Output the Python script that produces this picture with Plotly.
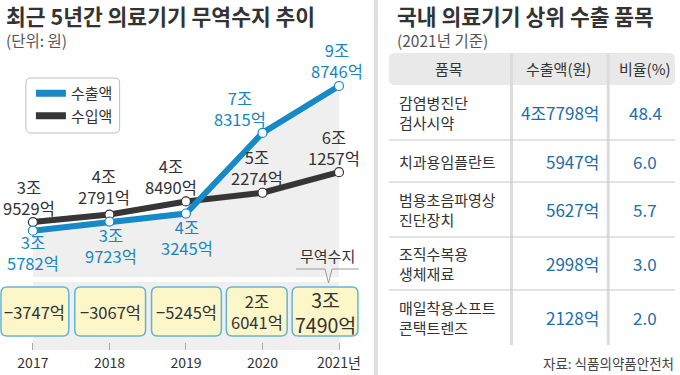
import plotly.graph_objects as go

# ---------------- data (unit: 억원) ----------------
years = [2017, 2018, 2019, 2020, 2021]
year_labels = ["2017", "2018", "2019", "2020", "2021년"]
exports = [35782, 39723, 43245, 78315, 98746]
imports = [39529, 42791, 48490, 52274, 61257]
balance = [-3747, -3067, -5245, 26041, 37490]

items = ["감염병진단<br>검사시약", "치과용임플란트", "범용초음파영상<br>진단장치",
         "조직수복용<br>생체재료", "매일착용소프트<br>콘택트렌즈"]
item_exports = [47798, 5947, 5627, 2998, 2128]
item_shares = [48.4, 6.0, 5.7, 3.0, 2.0]

# ---------------- helpers ----------------
W, H = 680, 375
FONT = "Noto Sans CJK KR"
BLUE = "#168ac6"
BLUE_TXT = "#1a86c0"
DARK = "#363636"
TXT = "#333333"
AMT = "#1d6ea9"


def X(px):
    return px / W


def Y(py):
    return 1 - py / H


def won(v, br=True):
    sign = "−" if v < 0 else ""
    jo, eok = divmod(abs(v), 10000)
    if jo:
        return f"{sign}{jo}조" + ("<br>" if br else "") + f"{eok}억"
    return f"{sign}{eok}억"


def rrect(x0, y0, x1, y1, r):
    rx, ry = r / W, r / H
    a, b, c, d = X(x0), X(x1), Y(y0), Y(y1)  # c top, d bottom
    return (f"M{a+rx},{c} L{b-rx},{c} Q{b},{c} {b},{c-ry} L{b},{d+ry} "
            f"Q{b},{d} {b-rx},{d} L{a+rx},{d} Q{a},{d} {a},{d+ry} "
            f"L{a},{c-ry} Q{a},{c} {a+rx},{c} Z")


def note(px, py, text, size, color=TXT, xa="center", **kw):
    return dict(x=X(px), y=Y(py), xref="paper", yref="paper", text=text,
                showarrow=False, xanchor=xa, yanchor="middle",
                font=dict(size=size, color=color, family=FONT), **kw)


fig = go.Figure()

# gray area under export line
fig.add_trace(go.Scatter(x=years, y=exports, mode="none", fill="tozeroy",
                         fillcolor="#efefef", showlegend=False, hoverinfo="skip"))
# import line
fig.add_trace(go.Scatter(x=years, y=imports, mode="lines+markers", showlegend=False,
                         line=dict(color=DARK, width=6),
                         marker=dict(size=9, color="white", line=dict(color=DARK, width=1.2)),
                         cliponaxis=False, hoverinfo="skip"))
# export line
fig.add_trace(go.Scatter(x=years, y=exports, mode="lines+markers", showlegend=False,
                         line=dict(color=BLUE, width=6),
                         marker=dict(size=9, color="white", line=dict(color=BLUE, width=1.2)),
                         cliponaxis=False, hoverinfo="skip"))
# legend entries
fig.add_trace(go.Scatter(x=[None], y=[None], mode="lines", name="수출액",
                         line=dict(color=BLUE, width=7)))
fig.add_trace(go.Scatter(x=[None], y=[None], mode="lines", name="수입액",
                         line=dict(color=DARK, width=7)))

shapes = []
ann = []

# band behind trade balance boxes
shapes.append(dict(type="rect", xref="paper", yref="paper", x0=X(33), x1=X(340),
                   y0=Y(350), y1=Y(282), fillcolor="#efefef", line=dict(width=0),
                   layer="below"))
# legend frame
shapes.append(dict(type="path", xref="paper", yref="paper", path=rrect(26, 78, 120, 133, 5),
                   fillcolor="white", line=dict(color="#bdbdbd", width=1), layer="below"))

# line labels (pixel offsets of the label block centre from its point)
exp_shift = [(0, -22), (2, -24), (1, -24), (-22, 24), (-2, 25)]
imp_shift = [(-4, 25), (-5, 28), (-15, 25), (-5, 25), (-5, 25)]
for i, yr in enumerate(years):
    ann.append(dict(x=yr, y=exports[i], xref="x", yref="y", text=won(exports[i]),
                    showarrow=False, xanchor="center", yanchor="middle",
                    xshift=exp_shift[i][0], yshift=exp_shift[i][1],
                    font=dict(size=16.5, color=BLUE_TXT, family=FONT)))
    ann.append(dict(x=yr, y=imports[i], xref="x", yref="y", text=won(imports[i]),
                    showarrow=False, xanchor="center", yanchor="middle",
                    xshift=imp_shift[i][0], yshift=imp_shift[i][1],
                    font=dict(size=16.5, color=TXT, family=FONT)))

# trade balance boxes
box_px = [(1, 287, 69, 336), (75, 287, 146, 336), (152, 287, 222, 336),
          (227, 287, 288, 336), (293, 287, 359, 336)]
for i, (x0, y0, x1, y1) in enumerate(box_px):
    shapes.append(dict(type="path", xref="paper", yref="paper", path=rrect(x0, y0, x1, y1, 6),
                       fillcolor="#fdf6c8", line=dict(color="#5fb6d9", width=1.5)))
    ann.append(note((x0 + x1) / 2, (y0 + y1) / 2, won(balance[i]), 19.5 if i == 4 else 16.5))

# callout 무역수지
cp = (f"M{X(297)},{Y(269)} L{X(326)},{Y(269)} L{X(329.5)},{Y(283)} "
      f"L{X(333)},{Y(269)} L{X(360)},{Y(269)}")
shapes.append(dict(type="path", xref="paper", yref="paper", path=cp,
                   line=dict(color="#9a9a9a", width=1)))
ann.append(note(328, 255, "무역수지", 15))

# titles
ann.append(note(4, 16, "<b>최근 5년간 의료기기 무역수지 추이</b>", 21.5, xa="left"))
ann.append(note(4, 40, "(단위: 원)", 15.5, color="#555555", xa="left"))

# ---------------- right panel ----------------
shapes.append(dict(type="line", xref="paper", yref="paper", x0=X(377), x1=X(377),
                   y0=0, y1=1, line=dict(color="#dedede", width=4)))
ann.append(note(396, 16, "<b>국내 의료기기 상위 수출 품목</b>", 21.5, xa="left"))
ann.append(note(396, 40, "(2021년 기준)", 15.5, color="#555555", xa="left"))

shapes.append(dict(type="path", xref="paper", yref="paper", path=rrect(390, 53, 677, 85, 6),
                   fillcolor="#e9e9e9", line=dict(width=0), layer="below"))
for sx in (513, 610):
    shapes.append(dict(type="line", xref="paper", yref="paper", x0=X(sx), x1=X(sx),
                       y0=Y(345), y1=Y(53), line=dict(color="#dcdcdc", width=3)))
for sy in (140, 182, 237, 290):
    shapes.append(dict(type="line", xref="paper", yref="paper", x0=X(390), x1=X(677),
                       y0=Y(sy), y1=Y(sy), line=dict(color="#c8c8c8", width=1)))

for txt, cx in (("품목", 450), ("수출액(원)", 560), ("비율(%)", 647)):
    ann.append(note(cx, 69, txt, 15))

row_cy = [112.5, 161, 209.5, 263.5, 317.5]
for i, cy in enumerate(row_cy):
    ann.append(note(398, cy, items[i], 15, xa="left", align="left"))
    ann.append(note(603, cy, won(item_exports[i], br=False), 17, color=AMT, xa="right"))
    ann.append(note(647, cy, f"{item_shares[i]:.1f}", 17, color=AMT))

ann.append(note(678, 363, "자료: 식품의약품안전처", 13.5, color="#444444", xa="right"))

PX_PER_YEAR = 76.75
PX_PER_EOK = 0.002298
Y0_PX = 312.9  # pixel of value 0

fig.update_layout(
    width=W, height=H, margin=dict(l=0, r=0, t=0, b=0),
    paper_bgcolor="white", plot_bgcolor="rgba(0,0,0,0)",
    font=dict(family=FONT, color=TXT),
    hovermode=False,
    shapes=shapes, annotations=ann,
    xaxis=dict(domain=[0, X(360)],
               range=[2017 - 33 / PX_PER_YEAR, 2017 + (360 - 33) / PX_PER_YEAR],
               anchor="free", position=Y(350),
               tickvals=years, ticktext=year_labels, ticks="inside", ticklen=7,
               tickcolor="#aaaaaa", tickwidth=1, ticklabelstandoff=3,
               tickfont=dict(size=14, color=TXT, family=FONT),
               showgrid=False, zeroline=False, showline=False, fixedrange=True),
    yaxis=dict(domain=[Y(277), Y(30)],
               range=[(Y0_PX - 277) / PX_PER_EOK, (Y0_PX - 30) / PX_PER_EOK],
               visible=False, fixedrange=True),
    legend=dict(x=X(31), y=Y(77), xanchor="left", yanchor="top",
                bgcolor="rgba(0,0,0,0)", borderwidth=0,
                font=dict(size=15, color=TXT, family=FONT),
                itemwidth=30, tracegroupgap=0),
)

fig.write_html("out.html", config={"displayModeBar": False},
               post_script="document.body.style.margin='0';document.body.style.overflow='hidden';")
